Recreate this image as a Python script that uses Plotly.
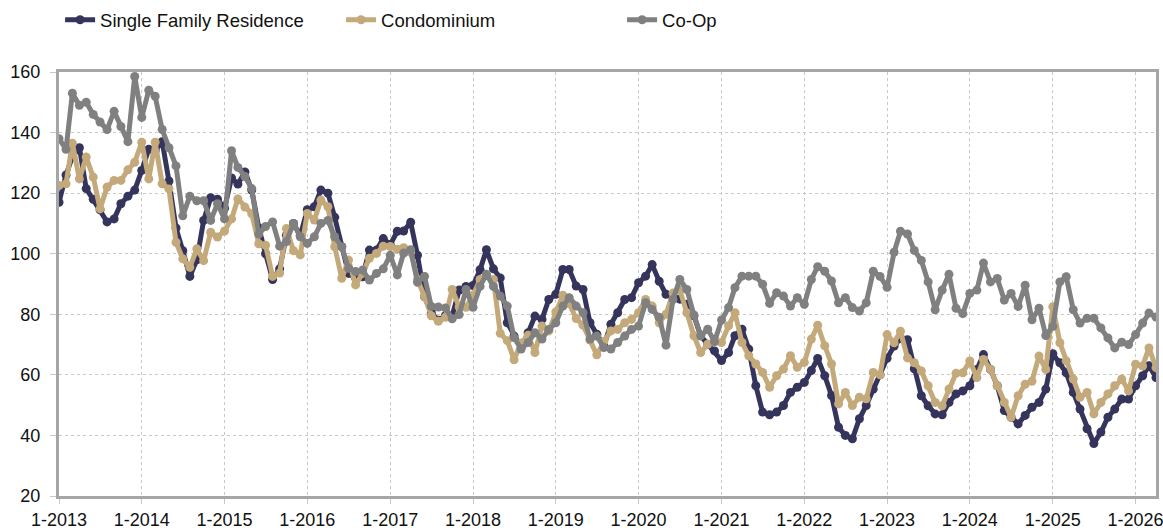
import pandas as pd
import plotly.graph_objects as go

# Monthly index values, Jan 2013 .. Apr 2026
sfr = [117, 126, 132, 135, 121.5, 118, 114.5, 110.5, 111.5, 116.5, 119, 121,
       127.5, 134.5, 134, 137, 124, 108.5, 101, 92.5, 98, 111, 118.5, 118,
       115, 125, 123, 127, 121, 108.5, 100, 91.5, 95, 106, 110, 106,
       114.5, 115.5, 121, 120, 112, 102.3, 93.5, 92, 92.4, 101.2, 101.2, 105,
       103, 107.4, 107.5, 110.4, 99.5, 85.8, 80.5, 78, 79.5, 79.5, 88, 89.2,
       89.5, 94.7, 101.3, 95, 92, 77.2, 72.8, 69, 73.9, 79.4, 78.3, 84.9,
       86.6, 94.8, 94.8, 89.3, 88.2, 77.2, 73.4, 69.6, 76.7, 80.5, 84.9, 85.5,
       90.4, 92.6, 96.4, 90.9, 86.6, 86, 85, 83.3, 79.5, 72.9, 70.1, 67.9,
       64.7, 67.4, 72.9, 75.1, 68.5, 56.4, 47.7, 46.8, 47.7, 49.9, 54.2, 55.9,
       57.5, 61.4, 65.4, 59.7, 53.2, 42.7, 40, 38.9, 45.5, 49.9, 55.3, 60,
       65.5, 69.5, 72, 71.6, 62, 53.1, 49.8, 47.1, 46.8, 50.9, 53.7, 54.7,
       56.4, 61.8, 66.7, 61.8, 56.4, 48.2, 46, 43.8, 46.6, 49.3, 50.9, 55.3,
       67, 64, 60.7, 54.2, 48.7, 42.2, 37.3, 41.1, 46, 48.7, 52, 52,
       56.4, 59.7, 63, 59.1]

condo = [122.5, 123.1, 136.5, 124.7, 131.9, 125.3, 114.8, 122, 124.2, 124.2, 127.7, 130.2,
         136.8, 124.7, 136.8, 123.1, 121.4, 103.8, 98.3, 95.5, 101.6, 97.7, 107.1, 105.5,
         107.5, 111.5, 118.1, 115.4, 113.2, 103.3, 102.8, 92.5, 93.6, 108.3, 101, 99.6,
         113.3, 111.1, 117.7, 115.5, 102.3, 91.9, 97.9, 89.7, 93.5, 98.5, 100.1, 102.5,
         102.4, 101.5, 102, 100.5, 91.5, 85.8, 79.5, 77.7, 79, 88.2, 82.4, 82.3,
         86.3, 91.5, 92.8, 91.5, 73.7, 71.3, 65, 70.5, 73.1, 67.4, 76.1, 74.5,
         80.8, 86.3, 83.5, 78.6, 76.4, 71.5, 66.6, 71, 74.5, 75, 77.2, 78.3,
         80.5, 84.9, 82.7, 77.2, 80, 87, 88, 80.5, 72.9, 67.4, 70.1, 71.8,
         70.7, 76.2, 80.5, 70.7, 66.3, 63.6, 60.8, 55.9, 59.7, 61.9, 66.3, 62.5,
         64.1, 71.8, 76.4, 69.6, 63.6, 50.4, 54.2, 49.9, 52.6, 52.1, 60.8, 60,
         73.3, 70.6, 74.4, 65.6, 64, 61.3, 56.4, 50.9, 49.8, 55.3, 60.5, 60.7,
         64.6, 59.1, 65.1, 61.8, 56.4, 50.9, 46, 53.1, 56.9, 57.9, 66.2, 61.8,
         82.5, 70.6, 64.6, 58.6, 52.6, 54.2, 47.1, 50.9, 53.7, 56.4, 58.6, 54.7,
         63.5, 62.9, 68.9, 62.4]

coop = [138, 134.5, 153, 149, 150, 146, 143.5, 141, 147, 142, 137, 158.5,
        145, 154, 152, 141, 135, 129, 112.5, 119, 117.5, 117.5, 111, 116.5,
        111.5, 134, 128.5, 125.5, 121.5, 106.5, 109, 110.5, 102.5, 104, 110, 105.6,
        103.4, 105.6, 110, 111, 105.6, 102.3, 95.2, 94.1, 94.6, 91.3, 93.5, 95,
        99.5, 93, 100.2, 101.3, 90.6, 92.5, 82.6, 82.4, 82.1, 78.5, 79.9, 88.2,
        82.3, 89.2, 93.2, 89.2, 86, 82.7, 72.3, 68.5, 70.7, 73.9, 71.8, 75,
        77.2, 82.7, 85.5, 82.7, 80.5, 71.8, 72.8, 69, 68.5, 70.7, 72.8, 75,
        76.1, 83.8, 81.6, 79, 69.8, 84.9, 91.5, 88.2, 79.8, 72.9, 75.1, 70.9,
        78.1, 82.2, 88.8, 92.6, 92.6, 92.6, 89.9, 83.6, 87.1, 86, 82.7, 85.5,
        83.3, 91.5, 95.7, 94.2, 91, 83.8, 85.5, 82.2, 81.1, 83.8, 94.2, 92.5,
        88.9, 100.5, 107.4, 106.5, 101.1, 97.8, 90.7, 81.5, 88, 93.2, 82, 80.2,
        86.9, 88, 96.9, 90.7, 91.8, 84.7, 86.9, 82.6, 89.6, 78.2, 82, 73,
        76, 90.7, 92.4, 81.5, 77.1, 78.7, 78.7, 75.5, 72.2, 68.9, 70.8, 70,
        73.3, 77.1, 80.4, 79.1]

months = pd.date_range("2013-01-01", periods=len(sfr), freq="MS")
tick_years = list(range(2013, 2027))
tick_vals = [pd.Timestamp(f"{y}-01-01") for y in tick_years]
tick_text = [f"1-{y}" for y in tick_years]

series = [
    ("Single Family Residence", sfr, "#35345c"),
    ("Condominium", condo, "#c4a97a"),
    ("Co-Op", coop, "#808080"),
]

fig = go.Figure()
for name, vals, col in series:
    fig.add_trace(go.Scatter(
        x=months, y=vals, name=name, mode="lines+markers",
        line=dict(color=col, width=5),
        marker=dict(color=col, size=9),
    ))

axis_col = "#a6a6a6"
grid_col = "#c8c8c8"
font_family = "Liberation Sans, Arial, Helvetica, sans-serif"

fig.update_layout(
    width=1163, height=532,
    margin=dict(l=59, r=7, t=72, b=36, autoexpand=False),
    paper_bgcolor="white", plot_bgcolor="white",
    font=dict(family=font_family, size=18, color="#111111"),
    showlegend=True,
    legend=dict(orientation="h", x=0.001, xanchor="left", y=1.167, yanchor="top",
                font=dict(size=18.5), entrywidth=236, entrywidthmode="pixels",
                tracegroupgap=0, bgcolor="rgba(0,0,0,0)"),
    xaxis=dict(
        range=[months[0], months[-1]],
        tickvals=tick_vals, ticktext=tick_text,
        showgrid=True, gridcolor=grid_col, griddash="dot", gridwidth=1,
        showline=True, linecolor=axis_col, linewidth=3, mirror=True,
        ticks="outside", ticklen=5, tickcolor=grid_col,
        ticklabeloverflow="allow",
        zeroline=False,
    ),
    yaxis=dict(
        range=[20, 160], dtick=20, tick0=20,
        showgrid=True, gridcolor=grid_col, griddash="dot", gridwidth=1,
        showline=True, linecolor=axis_col, linewidth=3, mirror=True,
        ticks="outside", ticklen=6, tickcolor=grid_col,
        ticklabelstandoff=6,
        zeroline=False,
    ),
)

fig.write_html("out.html", config={"displayModeBar": False},
               post_script="document.body.style.margin='0';")
